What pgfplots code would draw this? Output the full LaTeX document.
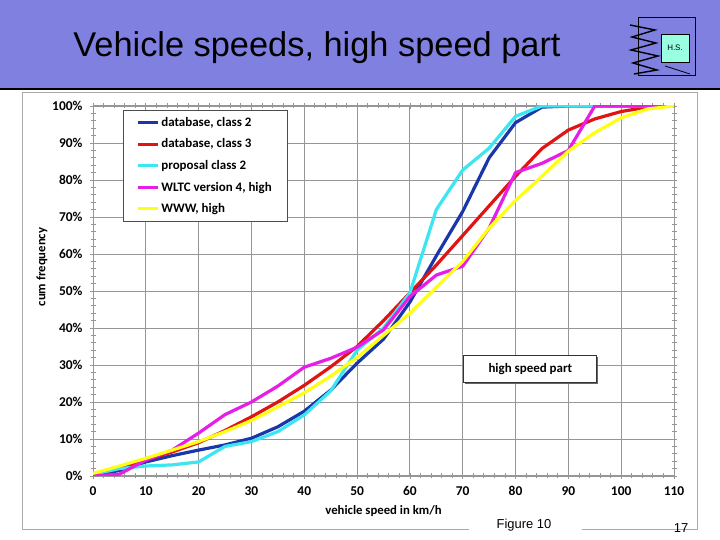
\documentclass[border=0pt]{standalone}
\usepackage{fontspec}
\setmainfont{Liberation Sans}
\newfontfamily\calibri{Carlito}
\usepackage{pgfplots}
\pgfplotsset{compat=1.18}
\usetikzlibrary{shadows}
\definecolor{hdr}{RGB}{128,128,224}
\definecolor{cblue}{RGB}{25,55,170}
\definecolor{cred}{RGB}{225,20,20}
\definecolor{ccyan}{RGB}{60,230,240}
\definecolor{cmag}{RGB}{230,30,230}
\definecolor{cyel}{RGB}{255,255,20}
\definecolor{gridc}{RGB}{150,150,150}
\definecolor{framec}{RGB}{170,170,170}
\begin{document}
\begin{tikzpicture}[x=1bp,y=1bp]
\useasboundingbox (0,0) rectangle (720,540);
\fill[white] (0,0) rectangle (720,540);
\fill[hdr] (0,452) rectangle (720,540);
\draw[black, line width=2.5bp] (0,451) -- (720,451);
% frame
\draw[framec, line width=1bp] (22,10) -- (22,447) -- (697,447) -- (697,10);
\draw[framec, line width=1bp] (22,10) -- (469,10);
\draw[framec, line width=1bp] (582,10) -- (697,10);
% title
\node[anchor=center] at (317,492) {\fontsize{34.5}{38}\selectfont Vehicle speeds, high speed part};
% logo
\draw[black, line width=1bp] (638,464) rectangle (695,522);
\fill[green!30!cyan!40] (661,478) rectangle (689,506);
\draw[black, line width=0.6bp] (661,478) rectangle (689,506);
\node at (675,492) {\fontsize{8}{9}\selectfont H.S.};
\draw[black, line width=1.4bp] (630,515) -- (655,510) -- (632,503) -- (656,497) -- (631,490) -- (658,484) -- (633,477) -- (657,470) -- (634,466);
\draw[black, line width=0.8bp] (665,474) -- (690,466);
% footer
\node at (524,15) {\fontsize{13}{15}\selectfont Figure 10};
\node at (681,12) {\fontsize{13}{15}\selectfont 17};
\begin{axis}[
  at={(93bp,64bp)}, anchor=south west,
  width=581bp, height=370bp, scale only axis,
  xmin=0, xmax=110, ymin=0, ymax=100,
  xtick={0,10,...,110}, ytick={0,10,...,100},
  minor x tick num=4, minor y tick num=4,
  tick align=center, major tick length=6bp, minor tick length=5bp,
  tick style={gridc, line width=0.8bp},
  grid=major, major grid style={gridc, line width=0.9bp},
  axis line style={gridc, line width=1bp},
  /pgf/number format/assume math mode=true,
  ticklabel style={font=\calibri\bfseries\fontsize{13.5}{15}\selectfont},
  yticklabel={\pgfmathprintnumber{\tick}\%},
  xticklabel style={yshift=-4bp},
  yticklabel style={xshift=-4bp},
  label style={font=\calibri\bfseries\fontsize{12.8}{14}\selectfont},
  xlabel={vehicle speed in km/h},
  ylabel={cum frequency},
  xlabel style={at={(axis description cs:0.5,-0.0946)}, anchor=center},
  ylabel style={at={(axis description cs:-0.0878,0.565)}, anchor=center},
  legend style={at={(0.0516,0.989)}, anchor=north west, draw=black!70, fill=white,
    font=\calibri\bfseries\fontsize{13}{15}\selectfont, row sep=7bp,
    inner xsep=13bp, inner ysep=5bp},
  legend cell align=left,
  legend image code/.code={\draw[#1] (0bp,0bp) -- (20bp,0bp);},
  every axis plot/.append style={line width=3.2bp, line join=round},
]
\addplot[cblue] coordinates {(0,0)(5,1.5)(10,3.8)(15,5.5)(20,7)(25,8.4)(30,10.2)(35,13.3)(40,17.5)(45,23.2)(50,30.5)(55,37)(60,47)(65,59.5)(70,71.5)(75,86)(80,95.5)(85,99.7)(90,100)(95,100)(100,100)(105,100)(110,100)};
\addlegendentry{database, class 2}
\addplot[cred] coordinates {(0,0.5)(5,2)(10,4.3)(15,6.5)(20,9)(25,12.3)(30,16)(35,20)(40,24.5)(45,29.5)(50,35)(55,42)(60,49.5)(65,57)(70,65)(75,73)(80,81)(85,88.5)(90,93.5)(95,96.5)(100,98.5)(105,99.7)(110,100)};
\addlegendentry{database, class 3}
\addplot[ccyan] coordinates {(0,0.5)(5,2)(10,2.7)(15,3)(20,3.8)(25,8)(30,9.3)(35,12)(40,16.5)(45,23)(50,34)(55,40)(60,49.5)(65,72)(70,82.7)(75,88.6)(80,97.2)(85,100)(90,100)(95,100)(100,100)(105,100)(110,100)};
\addlegendentry{proposal class 2}
\addplot[cmag] coordinates {(0,0)(5,0.5)(10,4.3)(15,7)(20,11.6)(25,16.6)(30,20)(35,24.3)(40,29.4)(45,31.8)(50,34.8)(55,39.5)(60,48.5)(65,54.3)(70,56.7)(75,67)(80,82)(85,84.5)(90,88)(95,100)(100,100)(105,100)(110,100)};
\addlegendentry{WLTC version 4, high}
\addplot[cyel] coordinates {(0,0.7)(5,2.7)(10,4.8)(15,7)(20,9.3)(25,12)(30,15)(35,18.7)(40,22.5)(45,27)(50,32)(55,38)(60,44)(65,51)(70,58)(75,67)(80,74.5)(85,81)(90,87.8)(95,92.8)(100,96.8)(105,99.2)(110,100)};
\addlegendentry{WWW, high}
\node[draw=black!80, line width=1bp, fill=white, minimum width=133bp, minimum height=27bp,
  drop shadow={shadow xshift=1.5bp, shadow yshift=-1.5bp, fill=black!60, opacity=1},
  font=\calibri\bfseries\fontsize{13}{15}\selectfont] at (axis cs:82.8,28.8) {high speed part};
\end{axis}
\end{tikzpicture}
\end{document}
